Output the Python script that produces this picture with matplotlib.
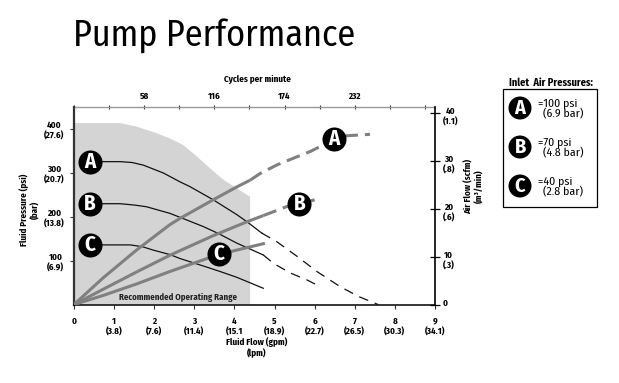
import matplotlib
matplotlib.use('Agg')
import matplotlib.pyplot as plt
from matplotlib.patches import Circle, Rectangle
from matplotlib.transforms import ScaledTranslation

plt.rcParams['font.family'] = ['Fira Sans Condensed', 'DejaVu Sans']
plt.rcParams['lines.scale_dashes'] = False

# ---------------- data ----------------
flow_ticks = list(range(10))
flow_tick_labels = ['0', '1\n(3.8)', '2\n(7.6)', '3\n(11.4)', '4\n(15.1', '5\n(18.9)',
                    '6\n(22.7)', '7\n(26.5)', '8\n(30.3)', '9\n(34.1)']
psi_ticks = [100, 200, 300, 400]
psi_tick_labels = ['100\n(6.9)', '200\n(13.8)', '300\n(20.7)', '400\n(27.6)']
scfm_ticks = [0, 10, 20, 30, 40]
scfm_tick_labels = ['0', '10\n(.3)', '20\n(.6)', '30\n(.8)', '40\n(1.1)']
cpm_ticks = [58, 116, 174, 232]
cpm_minor_ticks = [0, 29, 87, 145, 203, 261, 290]
cpm_per_gpm = 58 / 1.75

# recommended operating range (gpm, psi)
range_flow = [0, 0, 1.15, 1.56, 2.06, 2.39, 2.72, 3.06, 3.39, 3.72, 4.06, 4.39, 4.39]
range_psi = [0, 414, 414, 406, 391, 379, 364, 338, 311, 285, 265, 246, 0]

# fluid pressure curves (gpm, psi)
pa_flow = [0.4, 1.15, 1.45, 1.73, 2.23, 2.64, 2.89, 3.47, 4.06, 4.31, 4.68]
pa_psi = [326, 326, 324, 318, 300, 280, 269, 239, 205, 189, 163]
pa_ext_flow = [4.68, 5.06, 5.56, 6.06, 6.63, 7.1, 7.58]
pa_ext_psi = [163, 143, 110, 75, 41, 18, 0]

pb_flow = [0.4, 1.15, 1.5, 1.81, 2.39, 2.89, 3.22, 3.6, 4.06, 4.72]
pb_psi = [230, 230, 227, 223, 208, 190, 178, 162, 140, 113]
pb_ext_flow = [4.72, 4.97, 5.39, 5.81, 6.13]
pb_ext_psi = [113, 94, 72, 56, 41]

pc_flow = [0.4, 1.4, 1.7, 1.98, 2.39, 2.64, 3.22, 3.62, 4.06, 4.72]
pc_psi = [136, 136, 132, 124, 114, 105, 88, 76, 62, 37]

# air flow curves (gpm, scfm)
aa_flow = [0, 0.73, 1.56, 2.39, 2.64, 3.47, 4.06, 4.39]
aa_scfm = [0, 5.6, 11.4, 16.7, 18.0, 21.9, 24.6, 26.0]
aa_ext_flow = [4.39, 4.64, 5.06, 5.47, 5.89, 6.22, 6.49, 6.8, 7.38]
aa_ext_scfm = [26.0, 27.4, 29.2, 30.6, 32.0, 33.4, 34.6, 35.3, 35.6]

ab_flow = [0, 0.73, 1.56, 2.39, 3.47, 4.31, 4.72]
ab_scfm = [0, 3.2, 6.8, 10.3, 14.4, 17.3, 18.6]
ab_ext_flow = [4.72, 4.97, 5.31, 5.62, 6.0]
ab_ext_scfm = [18.6, 19.4, 20.5, 21.0, 21.9]

ac_flow = [0, 0.73, 1.56, 2.39, 3.62, 4.76]
ac_scfm = [0, 1.9, 4.3, 6.9, 10.5, 12.8]

# label positions
press_labels = ['A', 'B', 'C']
press_label_flow = [0.4, 0.4, 0.4]
press_label_psi = [326, 230, 136]
air_label_flow = [6.49, 5.62, 3.62]
air_label_scfm = [34.6, 21.0, 10.5]

legend_letters = ['A', 'B', 'C']
legend_psi = ['=100 psi', '=70 psi', '=40 psi']
legend_bar = ['(6.9 bar)', '(4.8 bar)', '(2.8 bar)']

# ---------------- figure ----------------
W, H = 619, 383
fig = plt.figure(figsize=(W / 100, H / 100), dpi=100)
ax = fig.add_axes([74 / W, 1 - 304.5 / H, (435 - 74) / W, (304.5 - 107.3) / H])
ax.set_xlim(0, 9)
ax.set_ylim(0, 450)

ax.fill(range_flow, range_psi, color='#d4d4d4', lw=0, zorder=1)

black = '#111111'
ax.plot(pa_flow, pa_psi, color=black, lw=0.9, zorder=3)
ax.plot(pa_ext_flow, pa_ext_psi, color=black, lw=0.9, dashes=(7, 5), zorder=3)
ax.plot(pb_flow, pb_psi, color=black, lw=0.9, zorder=3)
ax.plot(pb_ext_flow, pb_ext_psi, color=black, lw=0.9, dashes=(7, 5), zorder=3)
ax.plot(pc_flow, pc_psi, color=black, lw=0.9, zorder=3)

circ_s = 300
for lab, x, y in zip(press_labels, press_label_flow, press_label_psi):
    ax.scatter([x], [y], s=circ_s, color='black', zorder=6, linewidths=0)
    ax.text(x, y, lab, color='white', fontsize=15, fontweight='bold',
            ha='center', va='center', zorder=7)

ax.text(2.59, 17, 'Recommended Operating Range', fontsize=6.3, fontweight='bold',
        ha='center', va='center', color='#222222', zorder=4)

ax.set_xticks(flow_ticks)
ax.set_xticklabels(flow_tick_labels, fontsize=6.5, fontweight='bold')
ax.set_yticks(psi_ticks)
ax.set_yticklabels(psi_tick_labels, fontsize=6.5, fontweight='bold')
ax.tick_params(axis='x', direction='out', length=3, width=0.8, pad=6, color='#333333')
ax.tick_params(axis='y', direction='out', length=3, width=0.8, pad=4, color='#333333')
for lbl in ax.get_yticklabels():
    lbl.set_multialignment('center')
for lbl in ax.get_xticklabels():
    lbl.set_multialignment('center')
ax.spines['left'].set_linewidth(1.6)
ax.spines['left'].set_color('#333333')
ax.spines['bottom'].set_linewidth(1.1)
ax.spines['bottom'].set_color('black')
ax.spines['right'].set_visible(False)
ax.spines['top'].set_visible(False)

# right axis: air flow
ax2 = ax.twinx()
ax2.set_ylim(0, 41.25)
gray = '#808080'
ax2.plot(aa_flow, aa_scfm, color=gray, lw=2.2, zorder=3, solid_capstyle='butt')
ax2.plot(aa_ext_flow, aa_ext_scfm, color=gray, lw=2.2, dashes=(10, 5), zorder=3)
ax2.plot(ab_flow, ab_scfm, color=gray, lw=2.2, zorder=3, solid_capstyle='butt')
ax2.plot(ab_ext_flow, ab_ext_scfm, color=gray, lw=2.2, dashes=(10, 5), zorder=3)
ax2.plot(ac_flow, ac_scfm, color=gray, lw=2.2, zorder=3, solid_capstyle='butt')
for lab, x, y in zip(press_labels, air_label_flow, air_label_scfm):
    ax2.scatter([x], [y], s=circ_s, color='black', zorder=6, linewidths=0)
    ax2.text(x, y, lab, color='white', fontsize=15, fontweight='bold',
             ha='center', va='center', zorder=7)

ax2.set_yticks(scfm_ticks)
ax2.set_yticklabels(scfm_tick_labels, fontsize=6.5, fontweight='bold')
ax2.tick_params(axis='y', direction='inout', length=7, width=0.9, pad=2, color='black')
for lbl in ax2.get_yticklabels():
    lbl.set_verticalalignment('top')
    lbl.set_multialignment('center')
    lbl.set_transform(lbl.get_transform() + ScaledTranslation(0, 4.3 / 72, fig.dpi_scale_trans))
ax2.spines['right'].set_linewidth(1.2)
ax2.spines['right'].set_color('black')
for s in ['left', 'top', 'bottom']:
    ax2.spines[s].set_visible(False)

# top axis: cycles per minute
sec = ax.secondary_xaxis('top', functions=(lambda g: g * cpm_per_gpm, lambda c: c / cpm_per_gpm))
sec.set_xticks(cpm_ticks)
sec.set_xticklabels([str(c) for c in cpm_ticks], fontsize=6.5, fontweight='bold')
sec.set_xticks(cpm_minor_ticks, minor=True)
sec.tick_params(axis='x', which='both', direction='inout', length=3, width=0.8, pad=3, color='#333333')
sec.spines['top'].set_color('#999999')
sec.spines['top'].set_linewidth(1.0)

# axis titles
fig.text(257 / W, 1 - 79 / H, 'Cycles per minute', fontsize=6.5, fontweight='bold',
         ha='center', va='center')
fig.text(257 / W, 1 - 337 / H, 'Fluid Flow (gpm)\n(lpm)', fontsize=6.5, fontweight='bold',
         ha='center', va='top', multialignment='center')
fig.text(30 / W, 1 - 210 / H, 'Fluid Pressure (psi)\n(bar)', fontsize=6.5, fontweight='bold',
         ha='center', va='center', rotation=90, multialignment='center')
fig.text(474 / W, 1 - 186 / H, 'Air Flow (scfm)\n(m³/min)', fontsize=6.5, fontweight='bold',
         ha='center', va='center', rotation=90, multialignment='center')

# title
fig.text(73 / W, 1 - 46 / H, 'Pump Performance', fontsize=26, fontweight='normal',
         ha='left', va='baseline', color='black')

# legend (overlay in pixel coordinates)
ov = fig.add_axes([0, 0, 1, 1], zorder=10)
ov.set_xlim(0, W)
ov.set_ylim(H, 0)
ov.axis('off')
ov.add_patch(Rectangle((503, 89), 94, 118, fill=False, lw=0.9, edgecolor='black'))
ov.text(551, 83, 'Inlet  Air Pressures:', fontsize=7.5, fontweight='bold',
        ha='center', va='center')
leg_y = [108, 147, 186]
for lab, p, b, y in zip(legend_letters, legend_psi, legend_bar, leg_y):
    ov.add_patch(Circle((520, y), 10.8, color='black'))
    ov.text(520, y, lab, color='white', fontsize=14.5, fontweight='bold',
            ha='center', va='center')
    ov.text(538, y - 4.5, p, fontsize=8.5, ha='left', va='center')
    ov.text(543, y + 6.5, b, fontsize=8.5, ha='left', va='center')

fig.savefig('out.png', dpi=100)
